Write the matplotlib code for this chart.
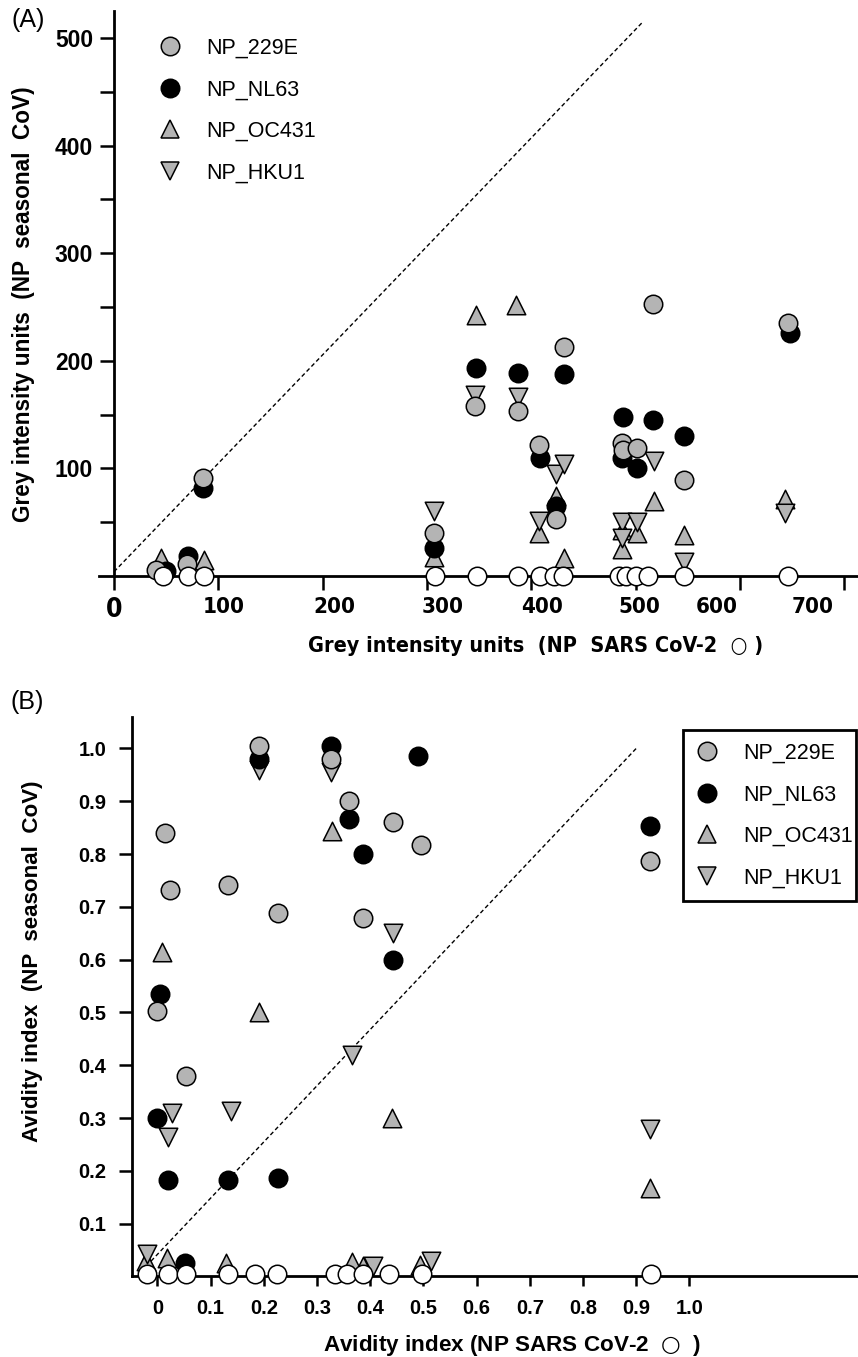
"""Recreate the two-panel NP seasonal CoV vs SARS-CoV-2 scatter figure."""
from pathlib import Path

import matplotlib

matplotlib.use("Agg")
import matplotlib.pyplot as plt  # noqa: E402
from matplotlib import font_manager  # noqa: E402
from matplotlib.font_manager import FontProperties  # noqa: E402
from matplotlib.lines import Line2D  # noqa: E402
from matplotlib.transforms import ScaledTranslation  # noqa: E402

# --- Panel A: grey intensity units ---
A_229E_X = [40, 70, 85, 307, 346, 387, 407, 424, 431, 487, 488, 501, 517, 546, 646]
A_229E_Y = [6, 11, 91, 40, 158, 153, 122, 53, 213, 124, 117, 119, 253, 89, 235]
A_NL63_X = [50, 71, 85, 307, 347, 387, 408, 424, 431, 487, 488, 501, 517, 546, 648]
A_NL63_Y = [5, 19, 82, 26, 193, 189, 110, 65, 188, 110, 148, 100, 145, 130, 226]
A_OC431_X = [45, 86, 307, 347, 385, 407, 424, 431, 487, 487, 501, 518, 546, 643]
A_OC431_Y = [17, 15, 18, 243, 252, 40, 74, 17, 43, 25, 40, 70, 38, 72]
A_HKU1_X = [307, 346, 387, 407, 424, 431, 487, 487, 501, 518, 546, 643]
A_HKU1_Y = [60, 168, 166, 51, 95, 104, 50, 35, 50, 107, 13, 59]
A_SARS_X = [47, 71, 86, 308, 348, 387, 408, 422, 430, 484, 491, 500, 512, 546, 646]
A_SARS_Y = [0] * len(A_SARS_X)
A_DIAG_X = [0, 507]
A_DIAG_Y = [4, 515]
A_XTICKS = [0, 100, 200, 300, 400, 500, 600, 700]
A_YTICKS = [100, 200, 300, 400, 500]
A_YMINOR = [50, 150, 250, 350, 450]
A_XLABEL_SHIFT = [0, 5, 11, 15, 10, 4, -22, -30]  # hand-placed labels in the original

# --- Panel B: avidity index ---
B_229E_X = [0.0, 0.014, 0.023, 0.053, 0.132, 0.19, 0.227, 0.327, 0.36, 0.387, 0.443, 0.495, 0.926]
B_229E_Y = [0.503, 0.839, 0.732, 0.38, 0.742, 1.005, 0.689, 0.98, 0.90, 0.678, 0.86, 0.818, 0.786]
B_NL63_X = [0.0, 0.004, 0.02, 0.052, 0.133, 0.19, 0.227, 0.327, 0.36, 0.387, 0.443, 0.49, 0.926]
B_NL63_Y = [0.30, 0.535, 0.183, 0.025, 0.183, 0.98, 0.186, 1.005, 0.867, 0.80, 0.60, 0.985, 0.853]
B_OC431_X = [-0.022, 0.009, 0.018, 0.129, 0.19, 0.328, 0.365, 0.386, 0.44, 0.493, 0.926]
B_OC431_Y = [0.03, 0.615, 0.035, 0.025, 0.50, 0.843, 0.027, 0.02, 0.30, 0.022, 0.167]
B_HKU1_X = [-0.019, 0.019, 0.027, 0.138, 0.19, 0.326, 0.365, 0.405, 0.443, 0.515, 0.926]
B_HKU1_Y = [0.042, 0.265, 0.31, 0.313, 0.96, 0.955, 0.42, 0.02, 0.65, 0.03, 0.28]
B_SARS_X = [-0.019, 0.019, 0.053, 0.132, 0.183, 0.225, 0.333, 0.357, 0.387, 0.436, 0.498, 0.927]
B_SARS_Y = [0.004] * len(B_SARS_X)
B_DIAG_X = [-0.03, 0.90]
B_DIAG_Y = [0.01, 1.00]
B_TICKS = [0.1, 0.2, 0.3, 0.4, 0.5, 0.6, 0.7, 0.8, 0.9, 1.0]
B_XTICKS = [0.0] + B_TICKS
B_XTICKLABELS = ["0"] + [f"{t:.1f}" for t in B_TICKS]

LABELS = ["NP_229E", "NP_NL63", "NP_OC431", "NP_HKU1"]
GREY = "#b4b4b4"
STYLES = [("o", GREY), ("o", "black"), ("^", GREY), ("v", GREY)]
MS = 13.3  # marker size in points

plt.rcParams["font.family"] = ["Liberation Sans", "DejaVu Sans"]

# Panel A's x axis uses a condensed bold face in the original.
NARROW_FILES = ["LiberationSansNarrow-Bold.ttf", "DejaVuSansCondensed-Bold.ttf"]
narrow_path = None
for wanted in NARROW_FILES:
    for entry in font_manager.fontManager.ttflist:
        if Path(entry.fname).name == wanted:
            narrow_path = entry.fname
            break
    if narrow_path:
        break


def narrow_font(size):
    if narrow_path:
        return FontProperties(fname=narrow_path, size=size)
    return FontProperties(family="Liberation Sans", weight="bold", size=size)


def scatter_series(ax, series):
    for (x, y), (marker, color) in series:
        ax.scatter(x, y, s=MS ** 2, marker=marker, facecolor=color, edgecolor="black",
                   linewidths=1.1, zorder=3, clip_on=False)


def legend_handles():
    return [Line2D([], [], linestyle="none", marker=m, markersize=MS, markerfacecolor=c,
                   markeredgecolor="black", markeredgewidth=1.1) for m, c in STYLES]


def fit_width(text, target_px, renderer):
    """Scale a text's font size so it spans target_px, as in the original."""
    width = text.get_window_extent(renderer).width
    if width > 0:
        text.set_fontsize(text.get_fontsize() * target_px / width)


fig = plt.figure(figsize=(8.58, 13.57), dpi=100)

# ---------------- Panel A ----------------
axA = fig.add_axes([0.1159, 0.566, 0.8838, 0.4282])
axA.set_xlim(-14, 713)
axA.set_ylim(-12, 528)
axA.plot(A_DIAG_X, A_DIAG_Y, color="black", lw=1.0, linestyle=(0, (3, 2)), zorder=2)
scatter_series(axA, [((A_OC431_X, A_OC431_Y), STYLES[2]),
                     ((A_HKU1_X, A_HKU1_Y), STYLES[3]),
                     ((A_NL63_X, A_NL63_Y), STYLES[1]),
                     ((A_229E_X, A_229E_Y), STYLES[0]),
                     ((A_SARS_X, A_SARS_Y), ("o", "white"))])

for side in ("top", "right"):
    axA.spines[side].set_visible(False)
axA.spines["left"].set_position(("data", 0))
axA.spines["left"].set_bounds(0, 525)
axA.spines["bottom"].set_position(("data", 0))
for side in ("left", "bottom"):
    axA.spines[side].set_linewidth(2.0)

axA.set_xticks(A_XTICKS)
axA.set_xticklabels([str(t) for t in A_XTICKS], fontproperties=narrow_font(16))
axA.set_yticks(A_YTICKS)
axA.set_yticks(A_YMINOR, minor=True)
axA.set_yticklabels([str(t) for t in A_YTICKS], fontweight="bold", fontsize=16.5)
axA.tick_params(axis="both", which="both", direction="out", length=10, width=1.8, pad=5)
axA.tick_params(axis="y", which="minor", labelleft=False)

for lbl, shift in zip(axA.get_xticklabels(), A_XLABEL_SHIFT):
    lbl.set_transform(lbl.get_transform()
                      + ScaledTranslation(shift * 1.043 / 100, 0, fig.dpi_scale_trans))
axA.get_xticklabels()[0].set_fontsize(19)

ylabA = axA.set_ylabel("Grey intensity units  (NP  seasonal  CoV)", fontweight="bold",
                       fontsize=16)
axA.yaxis.set_label_coords(-0.085, 0.49)
xlabA = axA.set_xlabel("Grey intensity units  (NP  SARS CoV-2  \u25cb )",
                       fontproperties=narrow_font(17))
axA.xaxis.set_label_coords(0.575, -0.081)

axA.legend(legend_handles(), LABELS, loc="upper left",
           bbox_to_anchor=(159 / 858, 1 - 38 / 1357), bbox_transform=fig.transFigure,
           frameon=False, fontsize=15.5, borderpad=0, borderaxespad=0,
           handlelength=1.0, handletextpad=1.2, labelspacing=0.95)

# ---------------- Panel B ----------------
axB = fig.add_axes([0.1538, 0.0477, 0.8462, 0.4241])
axB.set_xlim(-0.048, 1.317)
axB.set_ylim(-0.03, 1.06)
axB.plot(B_DIAG_X, B_DIAG_Y, color="black", lw=1.0, linestyle=(0, (3, 2)), zorder=2)
scatter_series(axB, [((B_OC431_X, B_OC431_Y), STYLES[2]),
                     ((B_HKU1_X, B_HKU1_Y), STYLES[3]),
                     ((B_NL63_X, B_NL63_Y), STYLES[1]),
                     ((B_229E_X, B_229E_Y), STYLES[0]),
                     ((B_SARS_X, B_SARS_Y), ("o", "white"))])

for side in ("top", "right"):
    axB.spines[side].set_visible(False)
axB.spines["bottom"].set_position(("data", 0))
axB.spines["left"].set_bounds(0, 1.06)
for side in ("left", "bottom"):
    axB.spines[side].set_linewidth(2.0)

axB.set_xticks(B_XTICKS)
axB.set_xticklabels(B_XTICKLABELS, fontweight="bold", fontsize=14.5)
axB.set_yticks(B_TICKS)
axB.set_yticklabels([f"{t:.1f}" for t in B_TICKS], fontweight="bold", fontsize=14.5)
axB.tick_params(axis="y", direction="out", length=9.5, width=1.8, pad=9)
axB.tick_params(axis="x", direction="out", length=7.5, width=1.8, pad=9)

ylabB = axB.set_ylabel("Avidity index  (NP  seasonal  CoV)", fontweight="bold", fontsize=16)
axB.yaxis.set_label_coords(-0.1226, 0.576)
# the open circle is drawn from DejaVu (mathtext) so it is as tall as the capitals
xlabB = axB.set_xlabel(r"Avidity index (NP SARS CoV-2  $\bigcirc$  )", fontweight="bold",
                       fontsize=16.5)
axB.xaxis.set_label_coords(0.523, -0.071)

legB = axB.legend(legend_handles(), LABELS, loc="upper left", mode="expand",
                  bbox_to_anchor=(683 / 858, 1 - 730 / 1357, 173 / 858, 0.0),
                  bbox_transform=fig.transFigure, fancybox=False, framealpha=1,
                  edgecolor="black", fontsize=15.5, borderpad=0.6, borderaxespad=0,
                  handlelength=1.0, handletextpad=1.2, labelspacing=0.95)
legB.get_frame().set_linewidth(2.0)

fig.text(28 / 858, 1 - 20 / 1357, "(A)", ha="center", va="center", fontsize=18)
fig.text(27 / 858, 1 - 702 / 1357, "(B)", ha="center", va="center", fontsize=18)

# Match the printed lengths of the axis titles.
renderer = fig.canvas.get_renderer()
fit_width(xlabA, 455, renderer)
fit_width(xlabB, 377, renderer)
for label, target in ((ylabA, 437), (ylabB, 362)):
    height = label.get_window_extent(renderer).height
    if height > 0:
        label.set_fontsize(label.get_fontsize() * target / height)

fig.savefig("out.png", dpi=100)
